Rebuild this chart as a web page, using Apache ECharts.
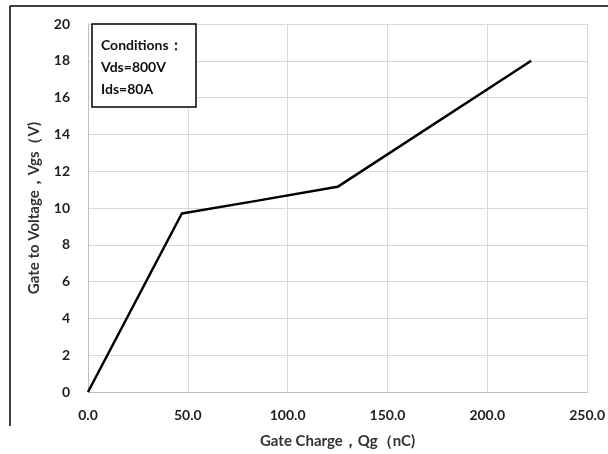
<!DOCTYPE html>
<html>
<head>
<meta charset="utf-8">
<script src="https://cdn.jsdelivr.net/npm/echarts@6/dist/echarts.min.js"></script>
<style>html,body{margin:0;padding:0;background:#fff}#c{width:608px;height:454px}</style>
</head>
<body>
<div id="c"></div>
<script>
const gateCharge = [0, 47, 85, 125, 222];
const gateVoltage = [0, 9.7, 10.4, 11.15, 18];
const xTicks = [0, 50, 100, 150, 200, 250];
const yTicks = [0, 2, 4, 6, 8, 10, 12, 14, 16, 18, 20];
const conditions = ['Conditions：', 'Vds=800V', 'Ids=80A'];
const xName = 'Gate Charge，Qg（nC)';
const yName = 'Gate to Voltage，Vgs（V)';

const FONT = 'Lato, "Noto Sans", sans-serif';
const chart = echarts.init(document.getElementById('c'), null, {renderer: 'canvas'});
chart.setOption({
  backgroundColor: '#fff',
  animation: false,
  grid: {left: 88, right: 20, top: 24, bottom: 62, containLabel: false},
  xAxis: {
    type: 'value', min: xTicks[0], max: xTicks[xTicks.length - 1], interval: 50,
    name: xName, nameLocation: 'middle', nameGap: 42,
    nameTextStyle: {fontFamily: FONT, fontSize: 15, fontWeight: 'bold', color: '#333'},
    axisLine: {show: true, lineStyle: {color: '#bfbfbf', width: 1}},
    axisTick: {show: false},
    splitLine: {show: true, lineStyle: {color: '#d9d9d9', width: 1}},
    axisLabel: {margin: 16, fontFamily: FONT, fontSize: 14, fontWeight: 'bold', color: '#222',
      formatter: v => v.toFixed(1)}
  },
  yAxis: {
    type: 'value', min: yTicks[0], max: yTicks[yTicks.length - 1], interval: 2,
    name: yName, nameLocation: 'middle', nameGap: 46, nameRotate: 90,
    nameTextStyle: {fontFamily: FONT, fontSize: 15, fontWeight: 'bold', color: '#333'},
    axisLine: {show: true, lineStyle: {color: '#bfbfbf', width: 1}},
    axisTick: {show: false},
    splitLine: {show: true, lineStyle: {color: '#d9d9d9', width: 1}},
    axisLabel: {margin: 18, fontFamily: FONT, fontSize: 14, fontWeight: 'bold', color: '#222'}
  },
  series: [{
    type: 'line',
    data: gateCharge.map((x, i) => [x, gateVoltage[i]]),
    showSymbol: false, symbol: 'none',
    lineStyle: {color: '#000', width: 2.5},
    z: 5
  }],
  graphic: [
    {type: 'line', shape: {x1: 10, y1: 6, x2: 608, y2: 6}, style: {stroke: '#000', lineWidth: 1.5}},
    {type: 'line', shape: {x1: 10, y1: 6, x2: 10, y2: 426}, style: {stroke: '#000', lineWidth: 1.5}},
    {type: 'rect', shape: {x: 92, y: 24, width: 104, height: 83},
      style: {fill: '#fff', stroke: '#000', lineWidth: 1.5}, z: 100},
    {type: 'text', left: 101, top: 34, z: 101,
      style: {text: conditions.join('\n'), fontFamily: FONT, fontSize: 14, fontWeight: 'bold',
        fill: '#111', lineHeight: 22}}
  ]
});
</script>
</body>
</html>
